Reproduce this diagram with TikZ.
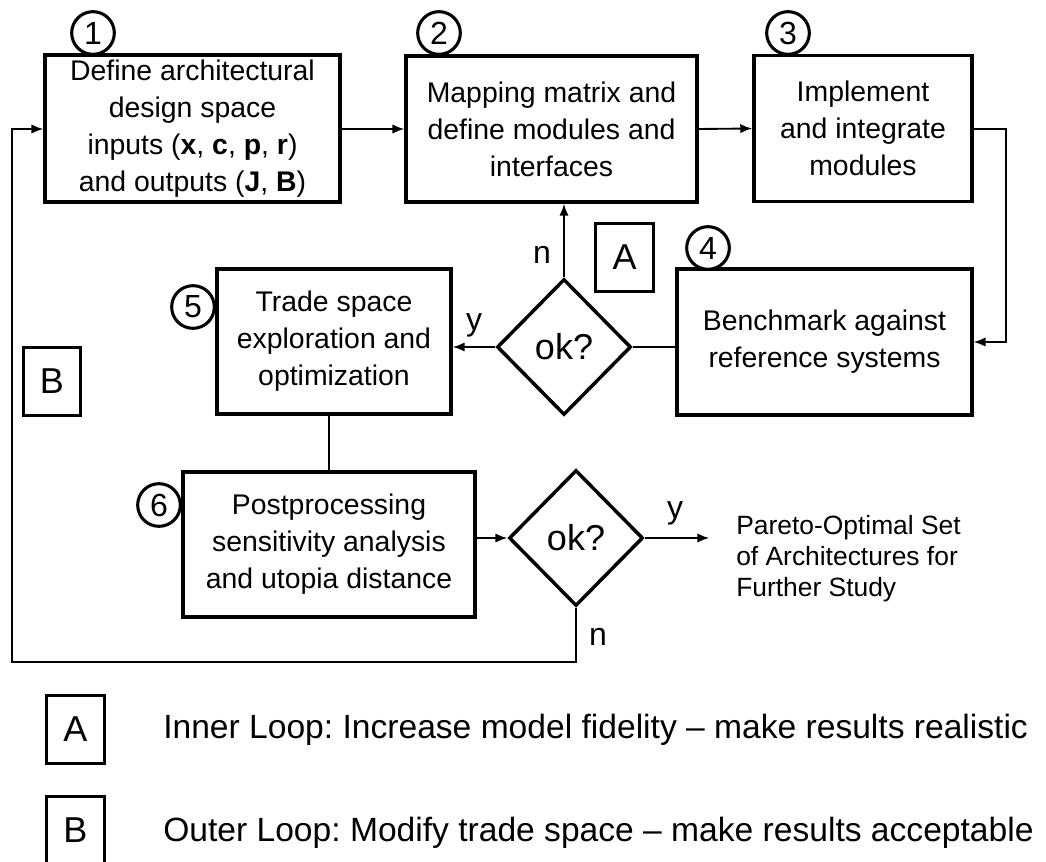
\documentclass[tikz,border=0pt]{standalone}
\usepackage{fontspec}
\setmainfont{Liberation Sans}
\usepackage{tikz}
\usetikzlibrary{shapes.geometric, positioning, arrows.meta}

\newcommand{\boxfont}{\fontsize{21.3}{27.75}\selectfont}
\newcommand{\legfont}{\fontsize{25.2}{30}\selectfont}
\frenchspacing

\begin{document}
\begin{tikzpicture}[x=0.75pt,y=-0.75pt,>={Latex[length=9pt,width=7pt]},
    stage/.style={draw,line width=2.6pt,align=center,inner sep=0pt,font=\boxfont},
    check/.style={diamond,draw,line width=2.6pt,inner sep=0pt,minimum width=100.5pt,minimum height=102pt,font=\fontsize{27}{30}\selectfont},
    loopbox/.style={draw,line width=2.2pt,inner sep=0pt,minimum width=43pt,minimum height=51pt,font=\fontsize{27}{30}\selectfont},
    num/.style={circle,draw,line width=2.3pt,fill=white,inner sep=0pt,minimum size=32pt,font=\fontsize{24}{26}\selectfont},
    yn/.style={font=\fontsize{24}{26}\selectfont,inner sep=0pt},
    flow/.style={line width=1.4pt}]
    \useasboundingbox (0,0) rectangle (1046,862);

    % process steps
    \node[stage,minimum width=221pt,minimum height=110pt] (define) at (192.5,128.5)
        {Define architectural\\design space\\inputs (\textbf{x}, \textbf{c}, \textbf{p}, \textbf{r})\\and outputs (\textbf{J}, \textbf{B})};
    \node[stage,minimum width=218pt,minimum height=109.5pt] (mapping) at (551.5,129)
        {Mapping matrix and\\define modules and\\interfaces};
    \node[stage,minimum width=163.5pt,minimum height=109.5pt] (implement) at (863,128.5)
        {Implement\\and integrate\\modules};
    \node[stage,minimum width=221pt,minimum height=109.5pt] (bench) at (824.5,342)
        {Benchmark against\\reference systems};
    \node[stage,minimum width=175.5pt,minimum height=108.75pt] (trade) at (334,341.5)
        {Trade space\\exploration and\\optimization};
    \node[stage,minimum width=219pt,minimum height=108.75pt] (post) at (329,544.5)
        {Postprocessing\\sensitivity analysis\\and utopia distance};

    % decisions
    \node[check] (ok1) at (564,347) {ok?};
    \node[check] (ok2) at (576,538) {ok?};

    \node[align=left,inner sep=0pt,anchor=west,font=\fontsize{19.8}{23.25}\selectfont] (pareto) at (736,559)
        {Pareto-Optimal Set\\of Architectures for\\Further Study};

    % step numbers
    \node[num] (n1) at (93,33) {1};
    \node[num] (n2) at (439,33) {2};
    \node[num] (n3) at (788,33) {3};
    \node[num] (n4) at (708,248) {4};
    \node[num] (n5) at (193,307) {5};
    \node[num] (n6) at (159,505) {6};

    % loop markers
    \node[loopbox] (inner) at (624.5,257.5) {A};
    \node[loopbox] (outer) at (52,381.5) {B};

    % connectors
    \coordinate (r1) at (1006,129);
    \coordinate (r2) at (1006,342);
    \coordinate (l1) at (576,662);
    \coordinate (l2) at (12,662);
    \coordinate (l3) at (12,129);

    \draw[flow,->] (define.east |- mapping.west) -- (mapping.west);
    \draw[flow,->] (mapping.east) -- (implement.west);
    \draw[flow,->] (implement.east |- r1) -- (r1) -- (r2) -- (bench.east |- r2);
    \draw[flow] (bench.west |- ok1.east) -- (ok1.east);
    \draw[flow,->] (ok1.west) -- (ok1.west -| trade.east);
    \draw[flow,->] (ok1.north) -- (ok1.north |- mapping.south);
    \draw[line width=2.2pt] (post.north) -- (post.north |- trade.south);
    \draw[flow,->] (ok2.west -| post.east) -- (ok2.west);
    \draw[flow,->] (ok2.east) -- ([xshift=-20pt]pareto.west |- ok2.east);
    \draw[flow,->] (ok2.south) -- (l1) -- (l2) -- (l3) -- (l3 -| define.west);

    \node[yn] (y1) at (474,325) {y};
    \node[yn] (no1) at (542,255) {n};
    \node[yn] (y2) at (675,513) {y};
    \node[yn] (no2) at (598,637) {n};

    % legend
    \node[loopbox] (legA) at (75.5,729.5) {A};
    \node[loopbox] (legB) at (75.5,830.5) {B};
    \node[anchor=west,inner sep=0pt,font=\legfont] (legAtext) at (163,730)
        {Inner Loop: Increase model fidelity -- make results realistic};
    \node[anchor=west,inner sep=0pt,font=\legfont] (legBtext) at (163,833)
        {Outer Loop: Modify trade space -- make results acceptable};
\end{tikzpicture}
\end{document}
